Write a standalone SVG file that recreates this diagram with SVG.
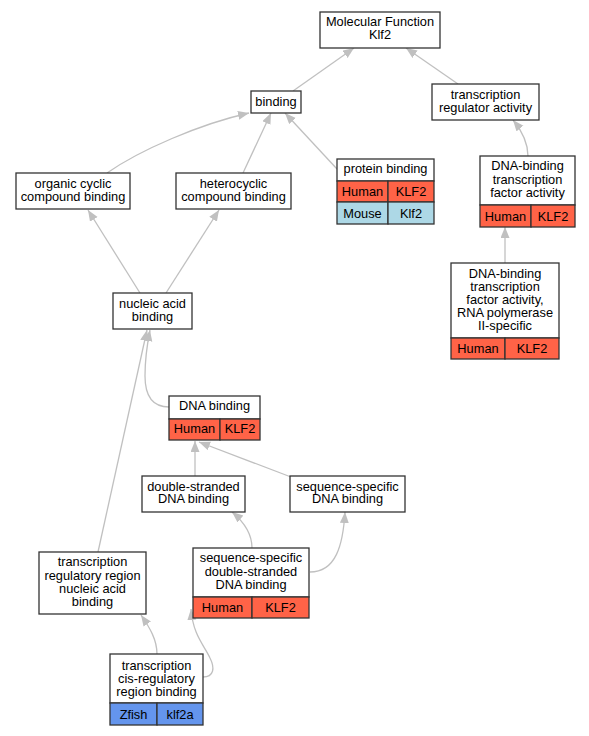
<svg xmlns="http://www.w3.org/2000/svg" width="589" height="736" viewBox="0 0 589 736">
<style>
.b{fill:#fff;stroke:#333;stroke-width:1.3}
.h{fill:#ff6347;stroke:#333;stroke-width:1.3}
.m{fill:#add8e6;stroke:#333;stroke-width:1.3}
.z{fill:#6495ed;stroke:#333;stroke-width:1.3}
text{font-family:"Liberation Sans",Arial,sans-serif;font-size:12.8px;fill:#000;text-anchor:middle}
.e{fill:none;stroke:#c0c0c0;stroke-width:1.3}
</style>
<defs>
<marker id="a" markerUnits="userSpaceOnUse" markerWidth="12" markerHeight="10" refX="11" refY="4.5" orient="auto">
<path d="M0,0 L11,4.5 L0,9 z" fill="#c0c0c0"/>
</marker>
</defs>
<rect width="589" height="736" fill="#fff"/>
<g id="edges">
<path class="e" marker-end="url(#a)" d="M293,91 L354,48"/>
<path class="e" marker-end="url(#a)" d="M458,84 L406,48"/>
<path class="e" marker-end="url(#a)" d="M107,173 C140,150 200,124 249,113"/>
<path class="e" marker-end="url(#a)" d="M243,173 L271,113"/>
<path class="e" marker-end="url(#a)" d="M337,169 L285,113"/>
<path class="e" marker-end="url(#a)" d="M528,156 C528,142 522,131 513,120"/>
<path class="e" marker-end="url(#a)" d="M505,263 L505,227"/>
<path class="e" marker-end="url(#a)" d="M140,293 L88,210"/>
<path class="e" marker-end="url(#a)" d="M166,293 L219,210"/>
<path class="e" marker-end="url(#a)" d="M169,407 C152,407 145,396 145,376 C145,360 147,345 150,330"/>
<path class="e" marker-end="url(#a)" d="M98,552 L147,330"/>
<path class="e" marker-end="url(#a)" d="M195,476 L195,441"/>
<path class="e" marker-end="url(#a)" d="M291,477 L199,442"/>
<path class="e" marker-end="url(#a)" d="M252,548 C252,534 244,522 232,512"/>
<path class="e" marker-end="url(#a)" d="M310,572 C336,572 343,545 345,512"/>
<path class="e" marker-end="url(#a)" d="M157,654 C157,640 150,628 141,615"/>
<path class="e" marker-end="url(#a)" d="M203,677 C214,677 215,668 210,658 C204,645 193,635 191,609"/>
</g>
<g id="mf">
<rect class="b" x="320" y="12" width="120" height="36"/>
<text x="380" y="26">Molecular Function</text>
<text x="380" y="39">Klf2</text>
</g>
<g id="binding">
<rect class="b" x="251" y="91" width="50" height="22"/>
<text x="276" y="106">binding</text>
</g>
<g id="tra">
<rect class="b" x="432" y="84" width="107" height="36"/>
<text x="485.5" y="98.5">transcription</text>
<text x="485.5" y="111.5">regulator activity</text>
</g>
<g id="protein">
<rect class="b" x="337" y="159" width="97" height="22"/>
<rect class="h" x="337" y="181" width="51" height="21"/>
<rect class="h" x="388" y="181" width="46" height="21"/>
<rect class="m" x="337" y="202" width="51" height="22"/>
<rect class="m" x="388" y="202" width="46" height="22"/>
<text x="385.5" y="173">protein binding</text>
<text x="362.5" y="196">Human</text>
<text x="411" y="196">KLF2</text>
<text x="362.5" y="217.5">Mouse</text>
<text x="411" y="217.5">Klf2</text>
</g>
<g id="dtfa">
<rect class="b" x="480" y="156" width="95" height="49"/>
<rect class="h" x="480" y="205" width="51" height="22"/>
<rect class="h" x="531" y="205" width="44" height="22"/>
<text x="527.5" y="170">DNA-binding</text>
<text x="527.5" y="183.5">transcription</text>
<text x="527.5" y="197">factor activity</text>
<text x="505.5" y="220.5">Human</text>
<text x="553" y="220.5">KLF2</text>
</g>
<g id="organic">
<rect class="b" x="16" y="173" width="114" height="36"/>
<text x="73" y="187.5">organic cyclic</text>
<text x="73" y="201">compound binding</text>
</g>
<g id="hetero">
<rect class="b" x="176" y="173" width="115" height="36"/>
<text x="233.5" y="187.5">heterocyclic</text>
<text x="233.5" y="201">compound binding</text>
</g>
<g id="nucleic">
<rect class="b" x="113" y="293" width="79" height="36"/>
<text x="152.5" y="307.5">nucleic acid</text>
<text x="152.5" y="320.5">binding</text>
</g>
<g id="rnapol">
<rect class="b" x="451" y="263" width="108" height="75"/>
<rect class="h" x="451" y="338" width="54" height="21"/>
<rect class="h" x="505" y="338" width="54" height="21"/>
<text x="505" y="278">DNA-binding</text>
<text x="505" y="291">transcription</text>
<text x="505" y="304">factor activity,</text>
<text x="505" y="317">RNA polymerase</text>
<text x="505" y="330">II-specific</text>
<text x="478" y="353">Human</text>
<text x="532" y="353">KLF2</text>
</g>
<g id="dnab">
<rect class="b" x="169" y="396" width="91" height="23"/>
<rect class="h" x="169" y="419" width="51" height="21"/>
<rect class="h" x="220" y="419" width="40" height="21"/>
<text x="214.5" y="410">DNA binding</text>
<text x="194.5" y="433">Human</text>
<text x="240" y="433">KLF2</text>
</g>
<g id="ds">
<rect class="b" x="142" y="476" width="103" height="36"/>
<text x="193.5" y="490.5">double-stranded</text>
<text x="193.5" y="503">DNA binding</text>
</g>
<g id="ss">
<rect class="b" x="290" y="476" width="115" height="36"/>
<text x="347.5" y="490.5">sequence-specific</text>
<text x="347.5" y="503">DNA binding</text>
</g>
<g id="ssds">
<rect class="b" x="193" y="548" width="116" height="49"/>
<rect class="h" x="193" y="597" width="59" height="21"/>
<rect class="h" x="252" y="597" width="57" height="21"/>
<text x="251" y="562">sequence-specific</text>
<text x="251" y="575.5">double-stranded</text>
<text x="251" y="588.5">DNA binding</text>
<text x="222.5" y="612">Human</text>
<text x="280.5" y="612">KLF2</text>
</g>
<g id="trrna">
<rect class="b" x="39" y="552" width="107" height="62"/>
<text x="92.5" y="566">transcription</text>
<text x="92.5" y="579.5">regulatory region</text>
<text x="92.5" y="593">nucleic acid</text>
<text x="92.5" y="606">binding</text>
</g>
<g id="cis">
<rect class="b" x="110" y="654" width="93" height="49"/>
<rect class="z" x="110" y="703" width="47" height="22"/>
<rect class="z" x="157" y="703" width="46" height="22"/>
<text x="156.5" y="669.5">transcription</text>
<text x="156.5" y="682.5">cis-regulatory</text>
<text x="156.5" y="695.5">region binding</text>
<text x="133.5" y="718.5">Zfish</text>
<text x="180" y="718.5">klf2a</text>
</g>
</svg>
